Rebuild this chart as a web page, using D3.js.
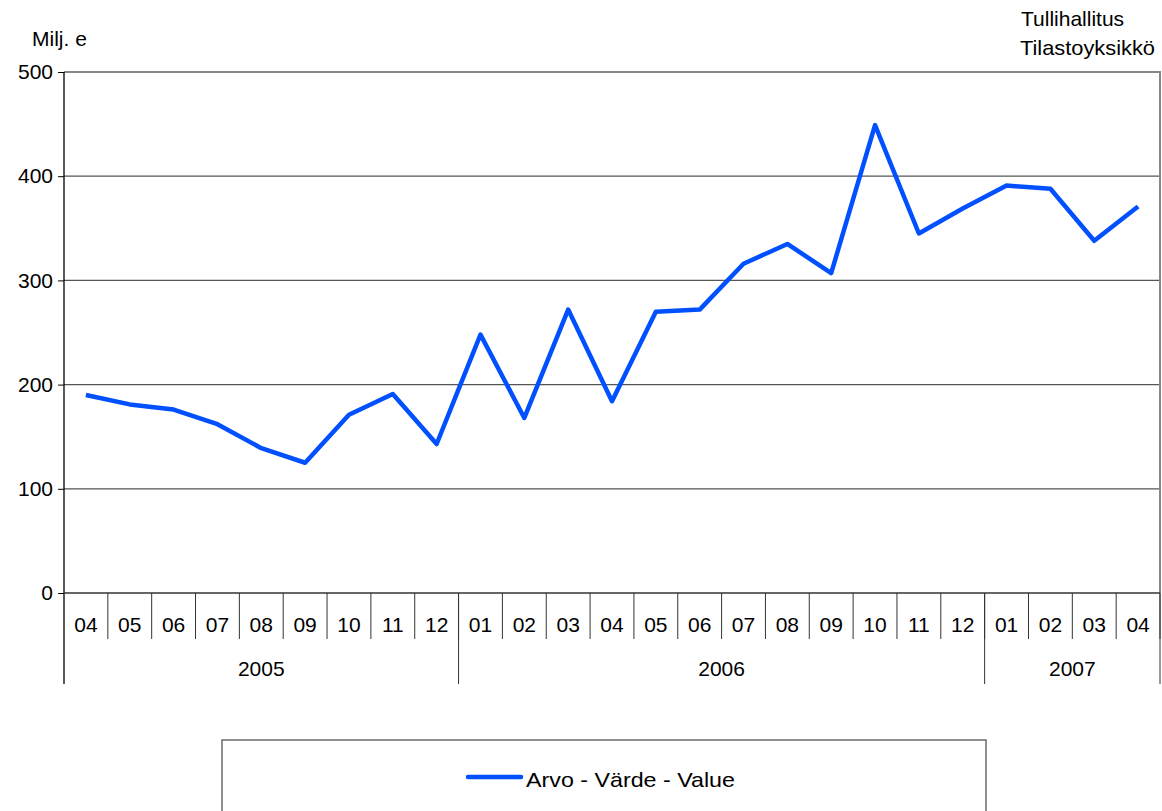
<!DOCTYPE html>
<html><head><meta charset="utf-8">
<script src="https://cdn.jsdelivr.net/npm/d3@7"></script>
<style>body{margin:0;background:#fff}svg{display:block}text{font-family:"Liberation Sans",Arial,sans-serif;fill:#000}</style>
</head><body><svg id="c" width="1162" height="811"></svg>
<script>
const months = ["04","05","06","07","08","09","10","11","12","01","02","03","04","05","06","07","08","09","10","11","12","01","02","03","04"];
const years = ["2005","2006","2007"];
const yearCounts = [9, 12, 4];
const values = [190,181,176,162,139,125,171,191,143,248,168,272,184,270,272,316,335,307,449,345,369,391,388,338,371];
const yTicks = [0,100,200,300,400,500];
const seriesName = "Arvo - Värde - Value";

const FS = 21;
const svg = d3.select("#c");
const L = 64, R = 1160, T = 72, B = 593;
const x = d3.scaleBand().domain(d3.range(months.length)).range([L, R]);
const y = d3.scaleLinear().domain([0, 500]).range([B, T]);

// gridlines
svg.append("g").selectAll("line").data(yTicks.filter(d => d > 0 && d < 500)).join("line")
  .attr("x1", L).attr("x2", R).attr("y1", d => y(d)).attr("y2", d => y(d))
  .attr("stroke", "#555").attr("stroke-width", 1.3);
// frame top & right
svg.append("path").attr("d", `M${L},${y(500)}H${R}V${B}`).attr("fill", "none").attr("stroke", "#888").attr("stroke-width", 2);

// y axis
const ya = svg.append("g").attr("transform", `translate(${L},0)`)
  .call(d3.axisLeft(y).tickValues(yTicks).tickSize(6).tickPadding(5).tickFormat(d3.format("d")));
ya.select(".domain").remove();
ya.selectAll("line").attr("stroke", "#000");
ya.selectAll("text").attr("font-size", FS).style("font-family", "Liberation Sans, Arial, sans-serif");
svg.append("line").attr("x1", L).attr("x2", L).attr("y1", T).attr("y2", 684).attr("stroke", "#000").attr("stroke-width", 1.3);

// x axis baseline
svg.append("line").attr("x1", L).attr("x2", R).attr("y1", B).attr("y2", B).attr("stroke", "#333").attr("stroke-width", 1.5);
// month dividers
svg.append("g").selectAll("line").data(d3.range(1, months.length + 1)).join("line")
  .attr("x1", i => L + i * x.step()).attr("x2", i => L + i * x.step())
  .attr("y1", B).attr("y2", 639).attr("stroke", "#333").attr("stroke-width", 1);
svg.append("g").selectAll("text").data(months).join("text")
  .attr("x", (d, i) => x(i) + x.bandwidth() / 2).attr("y", 632)
  .attr("text-anchor", "middle").attr("font-size", FS).text(d => d);
// year dividers
const cum = d3.cumsum(yearCounts);
const starts = [0, ...cum.slice(0, -1)];
svg.append("g").selectAll("line").data(cum).join("line")
  .attr("x1", c => L + c * x.step()).attr("x2", c => L + c * x.step())
  .attr("y1", B).attr("y2", 684).attr("stroke", "#333").attr("stroke-width", 1);
svg.append("g").selectAll("text").data(years).join("text")
  .attr("x", (d, i) => L + (starts[i] + yearCounts[i] / 2) * x.step()).attr("y", 676)
  .attr("text-anchor", "middle").attr("font-size", FS).text(d => d);

// line
svg.append("path").datum(values)
  .attr("d", d3.line().x((d, i) => x(i) + x.bandwidth() / 2).y(d => y(d)))
  .attr("fill", "none").attr("stroke", "#0050ff").attr("stroke-width", 4.5).attr("stroke-linejoin", "round");

// titles
svg.append("text").attr("x", 32).attr("y", 46).attr("font-size", FS).text("Milj. e");
svg.append("text").attr("x", 1021).attr("y", 26).attr("font-size", FS).text("Tullihallitus");
svg.append("text").attr("x", 1020).attr("y", 55).attr("font-size", FS).attr("textLength", 135).attr("lengthAdjust", "spacingAndGlyphs").text("Tilastoyksikkö");

// legend
svg.append("rect").attr("x", 222).attr("y", 740).attr("width", 764).attr("height", 90)
  .attr("fill", "none").attr("stroke", "#555").attr("stroke-width", 1.3);
svg.append("line").attr("x1", 468).attr("x2", 521).attr("y1", 777).attr("y2", 777)
  .attr("stroke", "#0050ff").attr("stroke-width", 4.5).attr("stroke-linecap", "round");
svg.append("text").attr("x", 526).attr("y", 787).attr("font-size", FS).attr("textLength", 209).attr("lengthAdjust", "spacingAndGlyphs").text(seriesName);
</script></body></html>
